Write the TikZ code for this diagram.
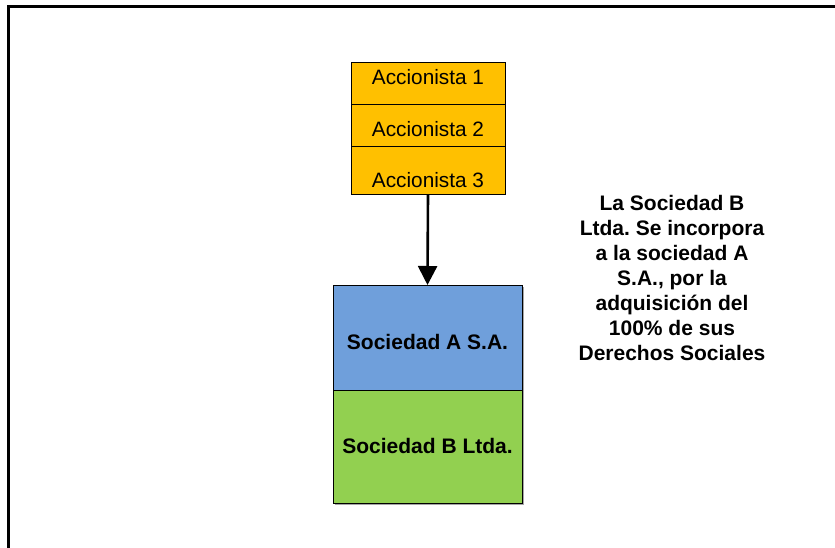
\documentclass[tikz,border=0pt]{standalone}
\usepackage{fontspec}
\setmainfont{Liberation Sans}
\usetikzlibrary{arrows.meta}
\definecolor{orangefill}{HTML}{FFC000}
\definecolor{bluefill}{HTML}{6F9FDB}
\definecolor{greenfill}{HTML}{92D050}
\frenchspacing
\tikzset{
  acc/.style={draw=black, line width=0.8pt, fill=orangefill, minimum width=154pt, inner sep=0pt, anchor=north},
  soc/.style={draw=black, line width=0.9pt, minimum width=189pt, inner sep=0pt, anchor=north, font=\fontsize{21}{25}\selectfont\bfseries},
  lbl/.style={font=\fontsize{20.8}{24}\selectfont, inner sep=0pt},
  conn/.style={line width=2.6pt, -{Triangle[width=19pt,length=19pt]}},
  note/.style={align=center, font=\fontsize{21}{25}\selectfont\bfseries, inner sep=0pt}
}
\begin{document}
\begin{tikzpicture}[x=1pt,y=-1pt]
\useasboundingbox (0,0) rectangle (835,548);
% frame (only top and left edges visible)
\draw[line width=3pt] (8.5,560) -- (8.5,6.5) -- (840,6.5);
% shareholders
\node[acc, minimum height=42pt] (a1) at (428,62) {};
\node[acc, minimum height=42pt] (a2) at (428,104) {};
\node[acc, minimum height=48pt] (a3) at (428,146) {};
\node[lbl] (t1) at (428,77) {Accionista 1};
\node[lbl] (t2) at (428,129) {Accionista 2};
\node[lbl] (t3) at (428,180) {Accionista 3};
% companies
\fill[gray!70] (335,287) rectangle (524,505);
\node[soc, fill=bluefill, minimum height=105pt] (sa) at (427.5,285) {};
\node[soc, fill=greenfill, minimum height=113pt] (sb) at (427.5,390) {};
\node[soc, draw=none, fill=none, minimum height=0pt] (sat) at (427.5,334) {Sociedad A S.A.};
\node[soc, draw=none, fill=none, minimum height=0pt] (sbt) at (427.5,438) {Sociedad B Ltda.};
% arrow
\draw[conn] (a3.south) -- (sa.north);
% note
\node[note] (note) at (672,278) {La Sociedad B\\Ltda. Se incorpora\\a la sociedad A\\S.A., por la\\adquisición del\\100\% de sus\\Derechos Sociales};
\end{tikzpicture}
\end{document}
